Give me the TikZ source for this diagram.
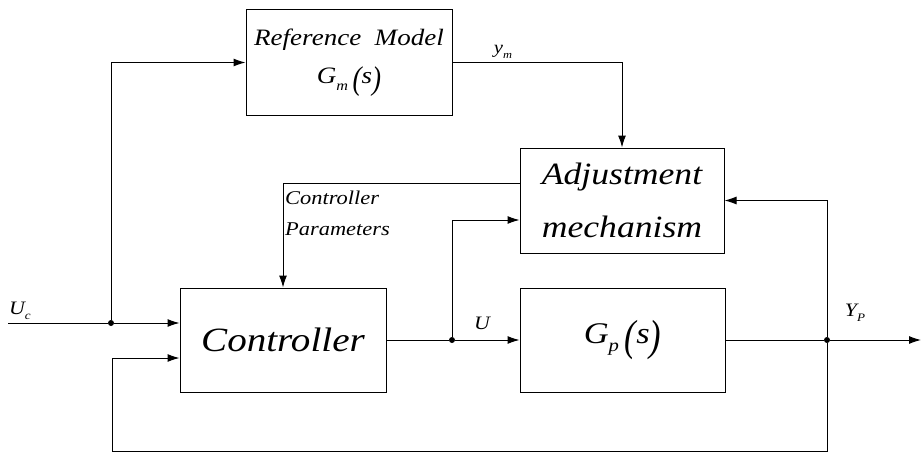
\documentclass[tikz,border=0pt]{standalone}
\usepackage{fontspec}
\setmainfont{Liberation Serif}
\usepackage{graphicx}
\usetikzlibrary{arrows.meta}
\newcommand{\stretchtxt}[1]{\scalebox{1.15}[1]{#1}}
\newcommand{\bigpar}[2]{\raisebox{-0.24em}{\scalebox{1}[#1]{#2}}}
\newcommand{\lowsub}[1]{\raisebox{-0.28em}{\scalebox{0.6}{#1}}}
\begin{document}
\begin{tikzpicture}[x=1pt,y=-1pt,
  blk/.style={draw, line width=1pt, inner sep=0pt, align=center},
  wire/.style={line width=1pt},
  arr/.style={wire,-{Latex[length=12pt,width=8pt]}},
  jdot/.style={circle, fill, inner sep=0pt, minimum size=6pt},
  lbl/.style={inner sep=0pt, font=\itshape}
]
\useasboundingbox (0,0) rectangle (921,452);
% blocks
\node[blk, minimum width=206pt, minimum height=105pt,
      font=\itshape\fontsize{23.5}{38}\selectfont] (ref) at (349,62.5)
  {\stretchtxt{Reference\ \ Model}\\
   \stretchtxt{G\lowsub{m}\,\bigpar{1.4}{(}s\bigpar{1.4}{)}}};
\node[blk, minimum width=204pt, minimum height=105pt,
      font=\itshape\fontsize{31}{53}\selectfont] (adj) at (622,200.5)
  {\stretchtxt{Adjustment}\\ \stretchtxt{mechanism}};
\node[blk, minimum width=206pt, minimum height=104pt,
      font=\itshape\fontsize{34}{40}\selectfont] (ctrl) at (283,340)
  {\stretchtxt{Controller}};
\node[blk, minimum width=205pt, minimum height=104pt,
      font=\itshape\fontsize{30}{34}\selectfont] (gp) at (622.5,340)
  {\stretchtxt{G\lowsub{p}\,\bigpar{1.45}{(}s\bigpar{1.45}{)}}};
% junctions and free ends
\coordinate (uc) at (8,323);
\node[jdot] (j1) at (111,323) {};
\node[jdot] (j2) at (452,340) {};
\node[jdot] (j3) at (827,340) {};
\coordinate (yout) at (921,340);
\coordinate (fbl) at (112,451);
\coordinate (fbr) at (827,451);
% connectors
\draw[wire] (uc) -- (j1);
\draw[arr] (j1) -- (j1 -| ctrl.west);
\draw[arr] (j1) |- (ref.west);
\draw[arr] (ref.east) -| (adj.north);
\draw[arr] (adj.west |- 0,183) -| (ctrl.north);
\draw[wire] (ctrl.east) -- (j2);
\draw[arr] (j2) -- (gp.west);
\draw[arr] (j2) |- (adj.west |- 0,220);
\draw[wire] (gp.east) -- (j3);
\draw[arr] (j3) -- (yout);
\draw[arr] (j3) |- (adj.east);
\draw[arr] (j3) -- (fbr) -- (fbl) |- (ctrl.west |- 0,358);
% labels
\node[lbl, font=\itshape\fontsize{19}{20}\selectfont] at (20,311) {\stretchtxt{U\lowsub{c}}};
\node[lbl, font=\itshape\fontsize{18}{20}\selectfont] at (503,52) {\stretchtxt{y\lowsub{m}}};
\node[lbl, font=\itshape\fontsize{19}{20}\selectfont] at (482,323) {\stretchtxt{U}};
\node[lbl, font=\itshape\fontsize{19}{20}\selectfont] at (855,313) {\stretchtxt{Y\lowsub{P}}};
\node[lbl, anchor=west, font=\itshape\fontsize{19.5}{31}\selectfont, align=left] at (285,213)
  {\stretchtxt{Controller}\\ \stretchtxt{Parameters}};
\end{tikzpicture}
\end{document}
